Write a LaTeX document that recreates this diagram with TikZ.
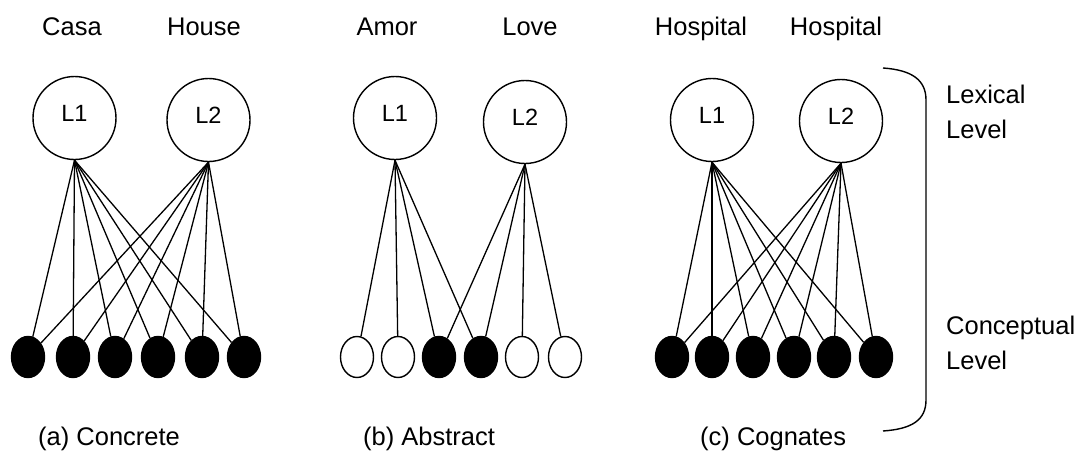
\documentclass[tikz,border=0pt]{standalone}
\usepackage{fontspec}
\setmainfont{Liberation Sans}
\usetikzlibrary{shapes.geometric}
\begin{document}
\begin{tikzpicture}[x=1pt,y=-1pt,
  lex/.style={circle,draw,line width=1.4pt,minimum size=83pt,inner sep=0pt,
    font=\fontsize{23.5}{27}\selectfont,text height=17pt,text depth=10pt},
  conf/.style={ellipse,draw,line width=1.4pt,fill=black,minimum width=33pt,minimum height=41pt,inner sep=0pt},
  cono/.style={conf,fill=white},
  link/.style={line width=1.3pt},
  word/.style={font=\fontsize{25.5}{30}\selectfont,anchor=base,inner sep=0pt},
  caption/.style={font=\fontsize{25.5}{30}\selectfont,anchor=base west,inner sep=0pt},
  level/.style={font=\fontsize{25.5}{35}\selectfont,anchor=north west,align=left,inner sep=0pt},
  bracket/.style={line width=1.4pt}
]
\useasboundingbox (0,0) rectangle (1085,463);

% ---------- (a) Concrete ----------
\node[word] (wa1) at (72,35) {Casa};
\node[word] (wa2) at (204,35) {House};
\node[lex] (a1) at (74.5,118) {L1};
\node[lex] (a2) at (208.5,120) {L2};
\foreach \i/\x in {1/28,2/73,3/115,4/158,5/202,6/244}{
  \node[conf] (ae\i) at (\x,357) {};
}
\foreach \i in {1,...,6}{
  \draw[link] (a1.south) -- (ae\i);
  \draw[link] (a2.south) -- (ae\i);
}
\node[caption] (ca) at (38,445) {(a) Concrete};

% ---------- (b) Abstract ----------
\node[word] (wb1) at (387,35) {Amor};
\node[word] (wb2) at (530,35) {Love};
\node[lex] (b1) at (395,118) {L1};
\node[lex] (b2) at (525,122) {L2};
\node[cono] (be1) at (357,357) {};
\node[cono] (be2) at (398,357) {};
\node[conf] (be3) at (439,357) {};
\node[conf] (be4) at (481,357) {};
\node[cono] (be5) at (522,357) {};
\node[cono] (be6) at (565,357) {};
\foreach \i in {1,...,4}{
  \draw[link] (b1.south) -- (be\i);
}
\foreach \i in {3,...,6}{
  \draw[link] (b2.south) -- (be\i);
}
\node[caption] (cb) at (363,445) {(b) Abstract};

% ---------- (c) Cognates ----------
\node[word] (wc1) at (701,35) {Hospital};
\node[word] (wc2) at (836,35) {Hospital};
\node[lex] (c1) at (712,120) {L1};
\node[lex] (c2) at (841,121) {L2};
\foreach \i/\x in {1/672,2/712,3/753,4/794,5/834,6/876}{
  \node[conf] (ce\i) at (\x,357) {};
}
\foreach \i in {1,...,6}{
  \draw[link] (c1.south) -- (ce\i);
  \draw[link] (c2.south) -- (ce\i);
}
\node[caption] (cc) at (700,445) {(c) Cognates};

% ---------- bracket and level labels ----------
\coordinate (bt) at (883,68);
\coordinate (bb) at (883,431);
\draw[bracket] (bt) .. controls (912,70) and (926,80) .. (926,100)
  -- (926,400) .. controls (926,420) and (912,429) .. (bb);
\node[level] (lexl) at (946,84.5) {Lexical\\Level};
\node[level] (conl) at (946,316) {Conceptual\\Level};
\end{tikzpicture}
\end{document}
